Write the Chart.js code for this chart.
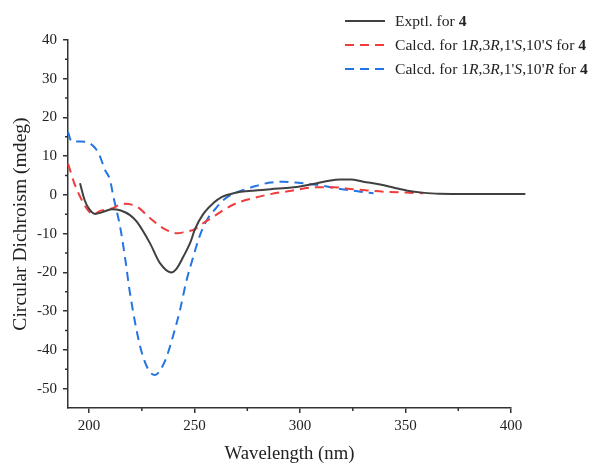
<!DOCTYPE html>
<html>
<head>
<meta charset="utf-8">
<script src="https://cdn.jsdelivr.net/npm/chart.js@4.4.1/dist/chart.umd.min.js"></script>
<style>
  body { margin: 0; background: #fff; }
  #wrap { position: relative; width: 589px; height: 465px; }
  #legend { position: absolute; left: 343px; top: 9px; font-family: 'Liberation Serif', 'Times New Roman', serif; font-size: 15.6px; color: #222; }
  #legend .row { display: flex; align-items: center; height: 24px; white-space: nowrap; }
  #legend svg { width: 44px; height: 10px; margin-right: 8px; }
</style>
</head>
<body>
<div id="wrap">
  <canvas id="cdChart"></canvas>
  <div id="legend">
    <div class="row"><svg><line x1="2" y1="5" x2="42" y2="5" stroke="#404040" stroke-width="2"/></svg><span>Exptl. for <b>4</b></span></div>
    <div class="row"><svg><line x1="2" y1="5" x2="42" y2="5" stroke="#f03c3c" stroke-width="2" stroke-dasharray="9,6"/></svg><span>Calcd. for 1<i>R</i>,3<i>R</i>,1'<i>S</i>,10'<i>S</i> for <b>4</b></span></div>
    <div class="row"><svg><line x1="2" y1="5" x2="42" y2="5" stroke="#2474e4" stroke-width="2" stroke-dasharray="9,6"/></svg><span>Calcd. for 1<i>R</i>,3<i>R</i>,1'<i>S</i>,10'<i>R</i> for <b>4</b></span></div>
  </div>
</div>
<script>
// experimental CD curve
var exptX = [195.7, 198, 200, 202.8, 206, 210.8, 215, 219.4, 222.6, 228.9, 233.6, 238.9, 241.5, 244.7, 247.9, 250.2, 254, 258.9, 263, 266.8, 272, 280, 286, 296, 303, 308, 313, 319, 324, 330, 338, 345, 351, 358, 366, 380, 398, 406.8];
var exptY = [3.0, -1.5, -3.6, -4.9, -4.5, -3.7, -4.0, -5.2, -6.9, -12.5, -17.6, -20.0, -19.0, -15.9, -12.4, -8.8, -5.0, -2.1, -0.5, 0.2, 0.8, 1.2, 1.5, 1.9, 2.5, 3.0, 3.6, 4.0, 4.0, 3.4, 2.7, 1.8, 1.1, 0.6, 0.3, 0.25, 0.25, 0.25];
// calcd 1R,3R,1'S,10'S
var calcSX = [190.1, 193, 197.3, 200, 202, 205.2, 210.8, 216.2, 222.6, 228.9, 235.2, 241.6, 245, 250.2, 254, 258.9, 264, 270, 278, 285.8, 295, 308, 316, 323.7, 331, 339.5, 350, 358.5];
var calcSY = [8.0, 3.0, -2.1, -4.3, -5.0, -4.1, -3.5, -2.3, -3.0, -6.0, -8.6, -9.9, -9.6, -8.8, -7.3, -5.6, -3.8, -2.1, -0.8, 0.2, 1.0, 2.0, 2.0, 1.55, 1.2, 0.85, 0.6, 0.44];
// calcd 1R,3R,1'S,10'R
var calcRX = [190, 191.7, 196, 200.4, 203.6, 205.2, 207.5, 209.9, 211.5, 214.7, 217, 219.4, 224.2, 228, 231.3, 234, 236.8, 240, 243.1, 246, 249.4, 252.5, 255.8, 260, 263.7, 268, 273.2, 279, 285.8, 292, 298, 308, 319, 328.5, 334.8];
var calcRY = [16.3, 13.8, 13.8, 13.3, 11.6, 9.9, 6.5, 3.9, -0.4, -8.2, -16, -25.4, -39.1, -45, -46.5, -45, -41.7, -36, -29.7, -22.5, -15.9, -10.5, -6.5, -3.5, -1.3, 0.2, 1.3, 2.3, 3.2, 3.4, 3.2, 2.6, 1.55, 0.85, 0.44];

var xTicks = [200, 250, 300, 350, 400];
var yTicks = [-50, -40, -30, -20, -10, 0, 10, 20, 30, 40];
var xMinor = [225, 275, 325, 375];
var yMinor = [-45, -35, -25, -15, -5, 5, 15, 25, 35];

function pts(xs, ys) {
    return xs.map(function(x, i) { return {x: x, y: ys[i]}; });
}

var serif = "'Liberation Serif', 'Times New Roman', serif";
var axisFont = {family: serif, size: 15};

// minor tick marks, shorter than the major ones
var minorTicks = {
    id: 'minorTicks',
    afterDraw: function(chart) {
        var ctx = chart.ctx;
        var xs = chart.scales.x, ys = chart.scales.y;
        var area = chart.chartArea;
        ctx.save();
        ctx.strokeStyle = '#333';
        ctx.lineWidth = 1.5;
        ctx.beginPath();
        xMinor.forEach(function(v) {
            var px = xs.getPixelForValue(v);
            ctx.moveTo(px, area.bottom);
            ctx.lineTo(px, area.bottom + 3);
        });
        yMinor.forEach(function(v) {
            var py = ys.getPixelForValue(v);
            ctx.moveTo(area.left, py);
            ctx.lineTo(area.left - 3, py);
        });
        ctx.stroke();
        ctx.restore();
    }
};

var ctx = document.getElementById('cdChart').getContext('2d');
var cdChart = new Chart(ctx, {
    type: 'line',
    plugins: [minorTicks],
    data: {
        datasets: [{
            label: 'Exptl. for 4',
            data: pts(exptX, exptY),
            borderColor: '#404040',
            borderWidth: 2,
            pointRadius: 0,
            cubicInterpolationMode: 'monotone',
            clip: false
        }, {
            label: "Calcd. for 1R,3R,1'S,10'S for 4",
            data: pts(calcSX, calcSY),
            borderColor: '#f03c3c',
            borderWidth: 2,
            borderDash: [9, 6],
            pointRadius: 0,
            cubicInterpolationMode: 'monotone',
            clip: false
        }, {
            label: "Calcd. for 1R,3R,1'S,10'R for 4",
            data: pts(calcRX, calcRY),
            borderColor: '#2474e4',
            borderWidth: 2,
            borderDash: [9, 6],
            pointRadius: 0,
            cubicInterpolationMode: 'monotone',
            clip: false
        }]
    },
    options: {
        responsive: true,
        maintainAspectRatio: false,
        animation: false,
        layout: {padding: {left: 0, right: 78, top: 40, bottom: 0}},
        plugins: {
            legend: {display: false},
            tooltip: {enabled: false}
        },
        scales: {
            x: {
                type: 'linear',
                min: 190,
                max: 400,
                afterBuildTicks: function(scale) {
                    scale.ticks = xTicks.map(function(v) { return {value: v}; });
                },
                afterFit: function(scale) { scale.height = 57; },
                grid: {drawOnChartArea: false, drawTicks: true, tickLength: 5, color: '#333', lineWidth: 1.5},
                border: {color: '#333', width: 1.5},
                ticks: {font: axisFont, color: '#222', padding: 4, maxRotation: 0},
                title: {display: true, text: 'Wavelength (nm)', font: {family: serif, size: 18.7}, color: '#222', padding: {top: 0, bottom: 0}}
            },
            y: {
                min: -55,
                max: 40,
                afterBuildTicks: function(scale) {
                    scale.ticks = yTicks.map(function(v) { return {value: v}; });
                },
                afterFit: function(scale) { scale.width = 68; },
                grid: {drawOnChartArea: false, drawTicks: true, tickLength: 5, color: '#333', lineWidth: 1.5},
                border: {color: '#333', width: 1.5},
                ticks: {font: axisFont, color: '#222', padding: 6},
                title: {display: true, text: 'Circular Dichroism (mdeg)', font: {family: serif, size: 19.6}, color: '#222', padding: {top: 9, bottom: 0}}
            }
        }
    }
});
</script>
</body>
</html>
